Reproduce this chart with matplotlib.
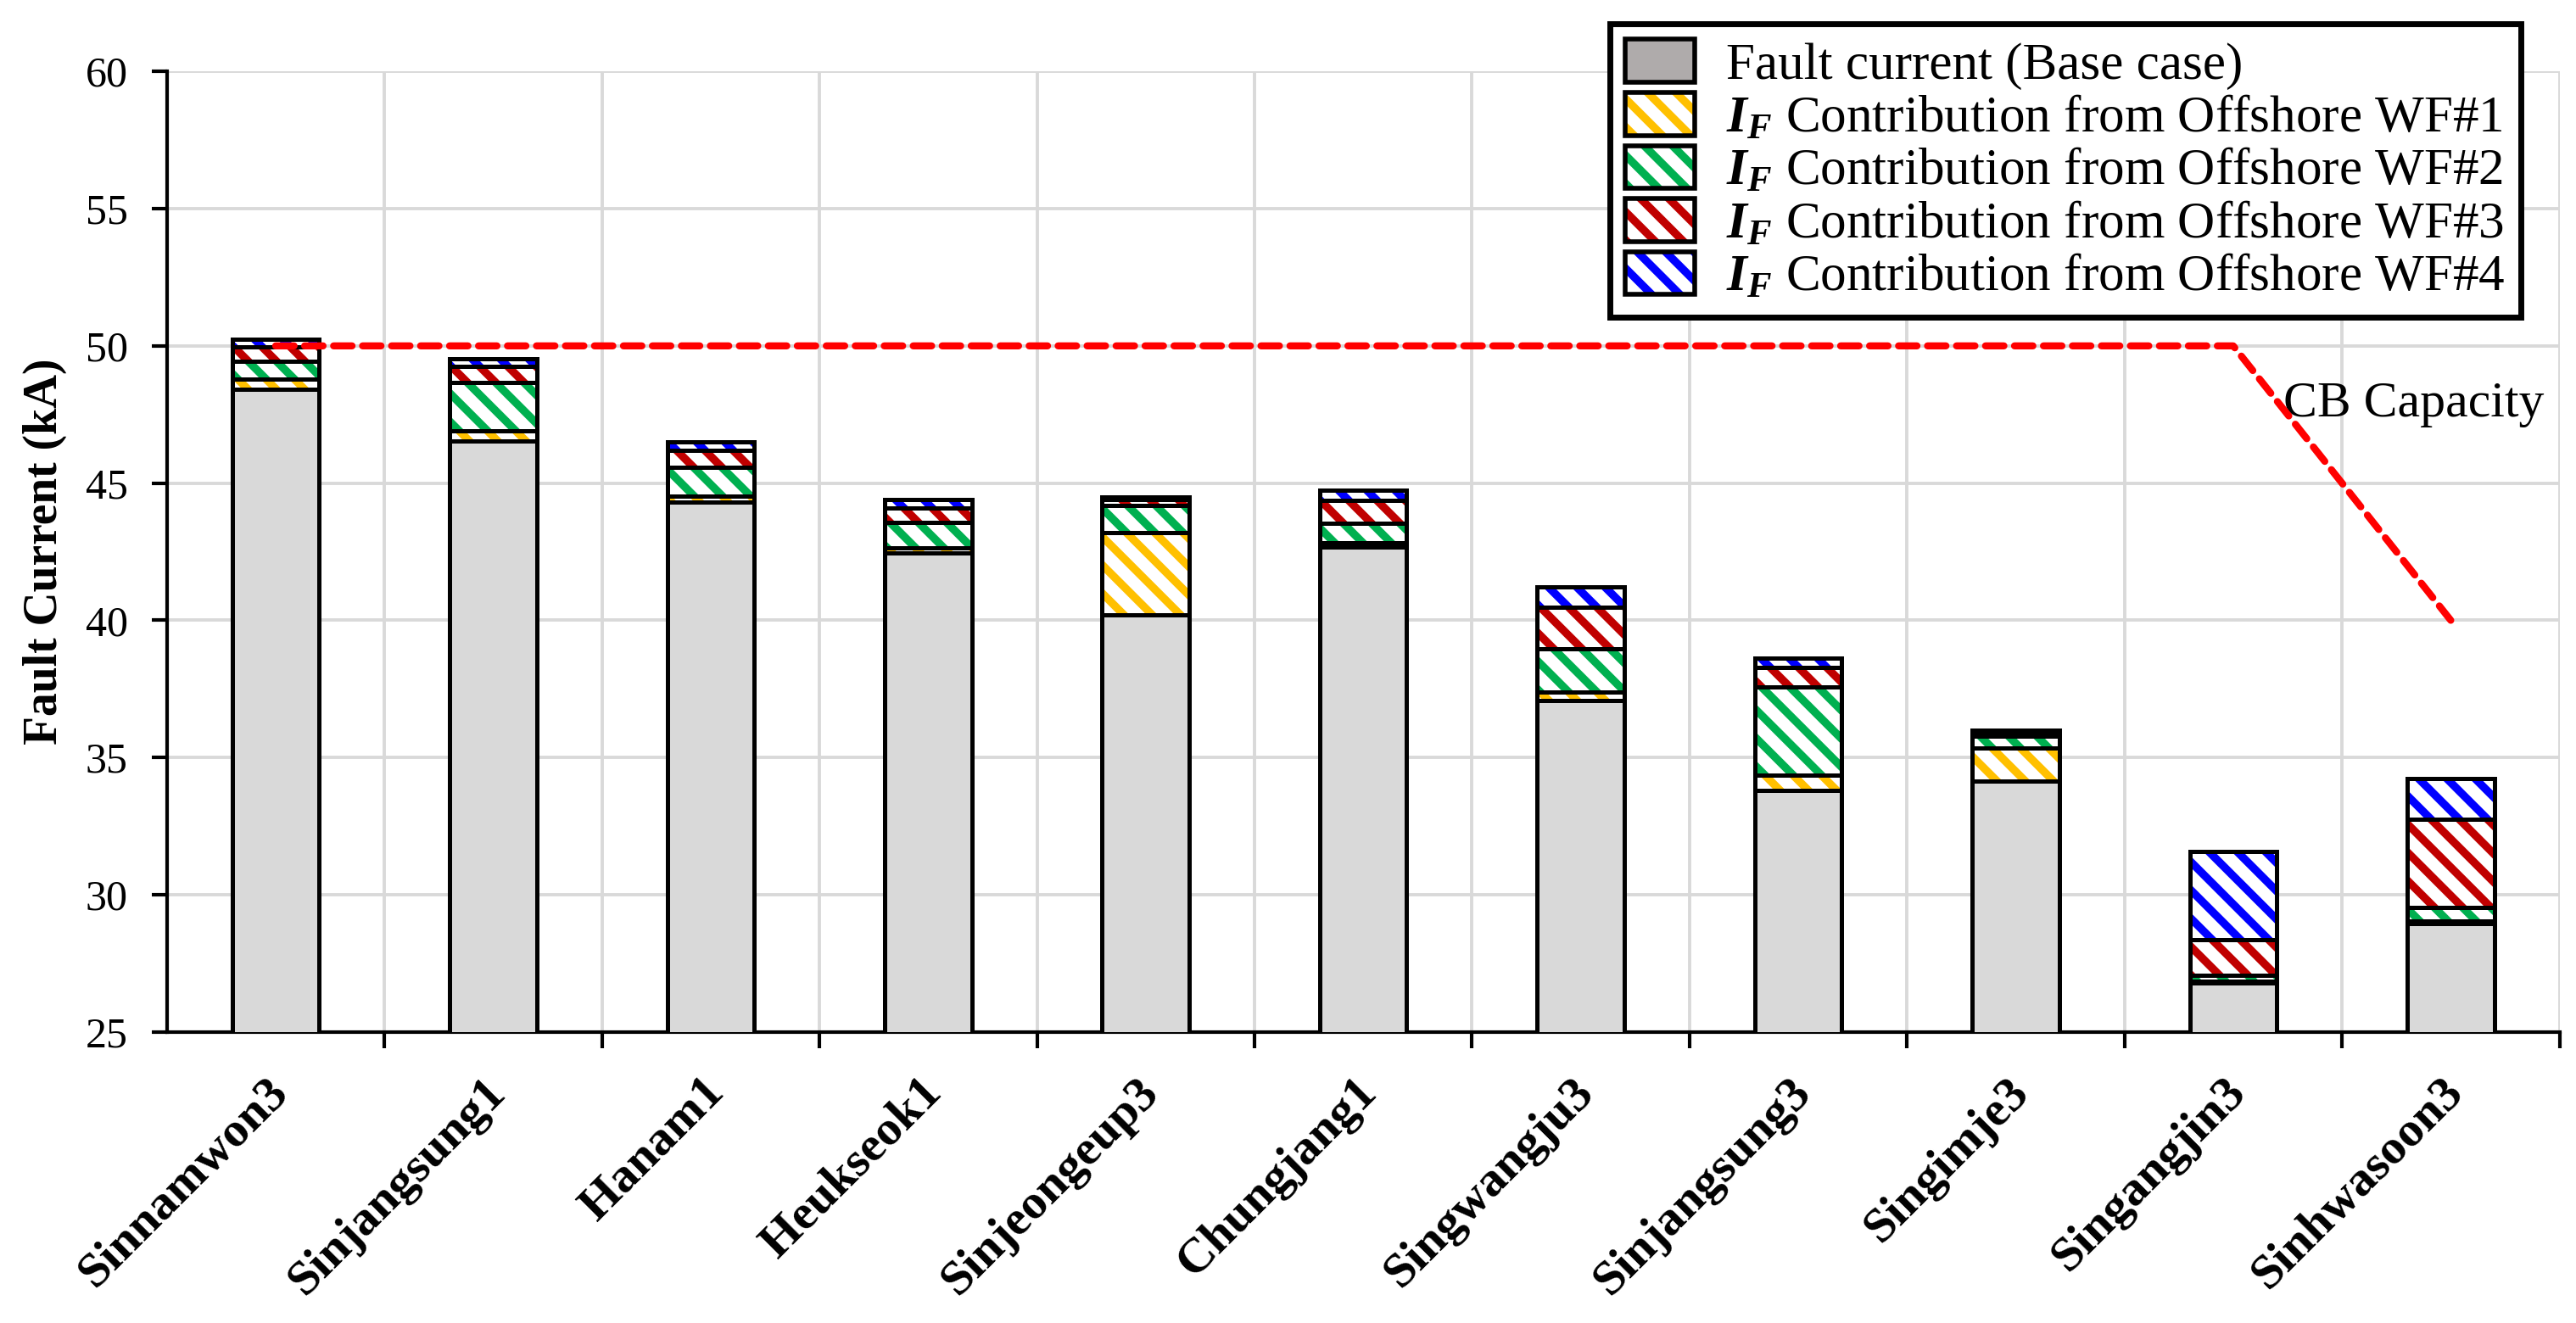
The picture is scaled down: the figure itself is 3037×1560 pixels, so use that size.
import numpy as np
import matplotlib
matplotlib.use("Agg")
import matplotlib.pyplot as plt
import matplotlib.transforms as mtransforms
from matplotlib.patches import Patch, Rectangle

# ─── Data ────────────────────────────────────────────────
stations = ['Sinnamwon3', 'Sinjangsung1', 'Hanam1', 'Heukseok1', 'Sinjeongeup3',
            'Chungjang1', 'Singwangju3', 'Sinjangsung3', 'Singimje3',
            'Singangjin3', 'Sinhwasoon3']
base = [48.42, 46.52, 44.30, 42.45, 40.21, 42.67, 37.08, 33.81, 34.15, 26.80, 28.95]
wf1 = [0.36, 0.37, 0.22, 0.18, 2.98, 0.16, 0.31, 0.55, 1.21, 0.05, 0.10]
wf2 = [0.67, 1.78, 1.06, 0.93, 1.00, 0.72, 1.58, 3.22, 0.43, 0.20, 0.50]
wf3 = [0.51, 0.59, 0.62, 0.54, 0.20, 0.81, 1.52, 0.71, 0.10, 1.32, 3.19]
wf4 = [0.28, 0.28, 0.31, 0.31, 0.10, 0.38, 0.72, 0.34, 0.12, 3.20, 1.50]
cb_capacity = [50, 50, 50, 50, 50, 50, 50, 50, 50, 50, 40]

wf_labels = [r'$\mathbfit{I_F}$ Contribution from Offshore WF#%d' % i for i in range(1, 5)]
wf_colors = ['#FFC000', '#00B050', '#C00000', '#0000FF']

# ─── Style ───────────────────────────────────────────────
plt.rcParams['font.family'] = ['Liberation Serif', 'DejaVu Serif']
plt.rcParams['mathtext.fontset'] = 'custom'
plt.rcParams['mathtext.rm'] = 'Liberation Serif'
plt.rcParams['mathtext.it'] = 'Liberation Serif:italic'
plt.rcParams['mathtext.bf'] = 'Liberation Serif:bold'
plt.rcParams['mathtext.bfit'] = 'Liberation Serif:bold:italic'
plt.rcParams['hatch.linewidth'] = 3.4
HATCH = '\\' * 2

fig = plt.figure(figsize=(15.185, 7.8), dpi=200)
ax = fig.add_axes([0.0648, 0.22, 0.9288, 0.726])

x = np.arange(len(stations))
w = 0.4
edge_lw = 1.8

ax.bar(x, base, w, color='#D9D9D9', edgecolor='black', linewidth=edge_lw, zorder=3)
bottom = np.array(base, dtype=float)
for vals, col in zip([wf1, wf2, wf3, wf4], wf_colors):
    ax.bar(x, vals, w, bottom=bottom, color='white', edgecolor=col,
           hatch=HATCH, linewidth=0, zorder=3)
    ax.bar(x, vals, w, bottom=bottom, fill=False, edgecolor='black',
           linewidth=edge_lw, zorder=4)
    bottom = bottom + np.array(vals)

ax.plot(x, cb_capacity, color='#FF0000', lw=3.0, linestyle=(0, (2.6, 1.5)),
        dash_capstyle='round', zorder=5)
ax.text(9.83, 47.85, 'CB Capacity', fontsize=21.5, ha='center', va='center')

# ─── Axes ────────────────────────────────────────────────
ax.set_xlim(-0.5, 10.5)
ax.set_ylim(25, 60)
ax.set_yticks(np.arange(25, 61, 5))
ax.tick_params(axis='y', labelsize=18, direction='out', length=6.5, width=1.5, pad=10)
ax.set_xticks(x)
ax.set_xticklabels(stations, rotation=45, ha='right', rotation_mode='anchor',
                   fontsize=21, fontweight='bold')
ax.tick_params(axis='x', which='major', length=0, pad=16)
shift = mtransforms.ScaledTranslation(-4 / 72, 0, fig.dpi_scale_trans)
for lab in ax.get_xticklabels():
    lab.set_transform(lab.get_transform() + shift)
ax.set_xticks(np.arange(0.5, 11, 1), minor=True)
ax.tick_params(axis='x', which='minor', direction='out', length=7, width=1.5)
ax.grid(True, axis='y', which='major', color='#D9D9D9', lw=1.4, zorder=0)
ax.grid(True, axis='x', which='minor', color='#D9D9D9', lw=1.4, zorder=0)
ax.set_axisbelow(True)
for s in ['top', 'right']:
    ax.spines[s].set_visible(False)
for s in ['left', 'bottom']:
    ax.spines[s].set_linewidth(1.5)
ax.set_ylabel('Fault Current (kA)', fontsize=20, fontweight='bold', labelpad=8)

# ─── Legend ──────────────────────────────────────────────
handles = [Patch(facecolor='#AFABAB', edgecolor='black', linewidth=2)]
for col in wf_colors:
    handles.append(Patch(facecolor='white', edgecolor=col, hatch=HATCH, linewidth=0))
labels = ['Fault current (Base case)'] + wf_labels
leg = fig.legend(handles, labels, loc='upper right', bbox_to_anchor=(0.9785, 0.982),
                 prop={'size': 22}, frameon=True, fancybox=False,
                 edgecolor='black', framealpha=1,
                 handlelength=1.35, handleheight=0.9, labelspacing=0.05,
                 borderpad=0.3, handletextpad=0.6, borderaxespad=0)
leg.get_frame().set_linewidth(2.5)
fig.canvas.draw()
# black outlines on hatched legend keys
inv = fig.transFigure.inverted()
for p in leg.get_patches()[1:]:
    bb = p.get_window_extent()
    (x0, y0), (x1, y1) = inv.transform([[bb.x0, bb.y0], [bb.x1, bb.y1]])
    fig.patches.append(Rectangle((x0, y0), x1 - x0, y1 - y0, fill=False,
                                 edgecolor='black', linewidth=2,
                                 transform=fig.transFigure, zorder=10))

fig.savefig('out.png', dpi=200)
